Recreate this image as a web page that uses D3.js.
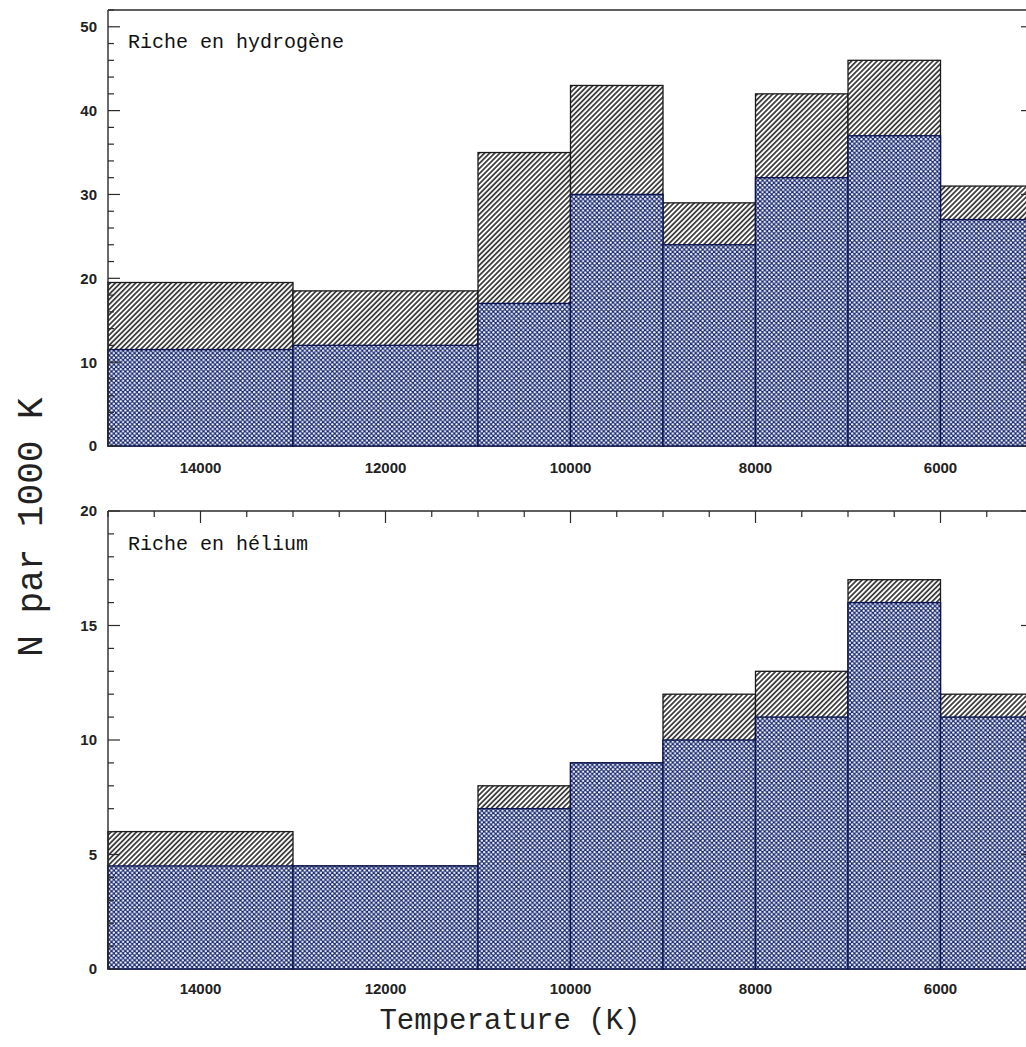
<!DOCTYPE html>
<html>
<head>
<meta charset="utf-8">
<script src="https://cdn.jsdelivr.net/npm/d3@7"></script>
<style>
  html, body { margin: 0; padding: 0; background: #ffffff; }
  svg { display: block; }
</style>
</head>
<body>
<svg id="chart" width="1026" height="1047"></svg>
<script>
// Temperature bin edges (K), hot to cool
const binEdges = [15000, 13000, 11000, 10000, 9000, 8000, 7000, 6000, 5000];

// Hydrogen-rich: total counts and the blue sub-sample (N per 1000 K)
const hydrogenTotal = [19.5, 18.5, 35, 43, 29, 42, 46, 31];
const hydrogenBlue  = [11.5, 12, 17, 30, 24, 32, 37, 27];

// Helium-rich: total counts and the blue sub-sample (N per 1000 K)
const heliumTotal = [6, 4.5, 8, 9, 12, 13, 17, 12];
const heliumBlue  = [4.5, 4.5, 7, 9, 10, 11, 16, 11];

const xTickLabels = [14000, 12000, 10000, 8000, 6000];
const hydrogenYTicks = [0, 10, 20, 30, 40, 50];
const heliumYTicks = [0, 5, 10, 15, 20];

const svg = d3.select("#chart");
const NAVY = "#1a2a72";
const AXIS = "#2a2a2a";

// Fill patterns: diagonal hatch for the full sample, dotted navy for the sub-sample
const defs = svg.append("defs");
const hatch = defs.append("pattern")
  .attr("id", "hatch").attr("patternUnits", "userSpaceOnUse")
  .attr("width", 3.6).attr("height", 3.6)
  .attr("patternTransform", "rotate(45)");
hatch.append("rect").attr("width", 3.6).attr("height", 3.6).attr("fill", "#ffffff");
hatch.append("line").attr("x1", 0.9).attr("y1", 0).attr("x2", 0.9).attr("y2", 3.6)
  .attr("stroke", "#1a1a1a").attr("stroke-width", 1.5);

const dots = defs.append("pattern")
  .attr("id", "dots").attr("patternUnits", "userSpaceOnUse")
  .attr("width", 4.6).attr("height", 4.6);
dots.append("rect").attr("width", 4.6).attr("height", 4.6).attr("fill", NAVY);
dots.append("circle").attr("cx", 1.15).attr("cy", 1.15).attr("r", 1.15).attr("fill", "#ffffff");
dots.append("circle").attr("cx", 3.45).attr("cy", 3.45).attr("r", 1.15).attr("fill", "#ffffff");

const x = d3.scaleLinear().domain([15000, 5000]).range([108, 1033]);

function panel(opts) {
  const { total, blue, y, yTicks, minorStep, title, titleY, labelY } = opts;
  const g = svg.append("g");
  const [y0, y1] = y.range();
  const bins = total.map((t, i) => ({ x0: binEdges[i], x1: binEdges[i + 1], t, b: blue[i] }));

  // Full-sample bars (hatched)
  g.selectAll("rect.total").data(bins).join("rect")
    .attr("class", "total")
    .attr("x", d => x(d.x0)).attr("width", d => x(d.x1) - x(d.x0))
    .attr("y", d => y(d.t)).attr("height", d => y(0) - y(d.t))
    .attr("fill", "url(#hatch)").attr("stroke", "#1a1a1a").attr("stroke-width", 1.3);

  // Sub-sample bars (navy dotted)
  g.selectAll("rect.blue").data(bins).join("rect")
    .attr("class", "blue")
    .attr("x", d => x(d.x0)).attr("width", d => x(d.x1) - x(d.x0))
    .attr("y", d => y(d.b)).attr("height", d => y(0) - y(d.b))
    .attr("fill", "url(#dots)").attr("stroke", "#0b1450").attr("stroke-width", 1.4);

  // Frame: left and top lines
  g.append("line").attr("x1", x(15000)).attr("x2", x(15000)).attr("y1", y1).attr("y2", y0)
    .attr("stroke", AXIS).attr("stroke-width", 1.4);
  g.append("line").attr("x1", x(15000)).attr("x2", x(5000)).attr("y1", y1).attr("y2", y1)
    .attr("stroke", AXIS).attr("stroke-width", 1.4);

  // Y ticks, inward on the left and right sides
  const top = y.domain()[1];
  const minor = d3.range(0, top + 0.001, minorStep);
  [x(15000), x(5000)].forEach((ax, side) => {
    const dir = side === 0 ? 1 : -1;
    g.selectAll(null).data(minor).join("line")
      .attr("x1", ax).attr("x2", d => ax + dir * (yTicks.includes(d) ? 12 : 6))
      .attr("y1", d => y(d)).attr("y2", d => y(d))
      .attr("stroke", AXIS).attr("stroke-width", 1.2);
  });

  // Y tick labels
  g.selectAll("text.ylab").data(yTicks).join("text")
    .attr("class", "ylab")
    .attr("x", 97).attr("y", d => y(d)).attr("dy", "0.36em")
    .attr("text-anchor", "end")
    .attr("font-family", "'Liberation Sans', Arial, sans-serif")
    .attr("font-size", 15).attr("font-weight", "bold").attr("fill", "#222")
    .text(d => d);

  // X tick labels
  g.selectAll("text.xlab").data(xTickLabels).join("text")
    .attr("class", "xlab")
    .attr("x", d => x(d)).attr("y", labelY)
    .attr("text-anchor", "middle")
    .attr("font-family", "'Liberation Sans', Arial, sans-serif")
    .attr("font-size", 15).attr("font-weight", "bold").attr("fill", "#222")
    .text(d => d);

  // Panel title
  g.append("text").attr("x", 128).attr("y", titleY)
    .attr("font-family", "'Liberation Mono', 'Courier New', monospace")
    .attr("font-size", 20).attr("fill", "#111")
    .text(title);
  return g;
}

const yH = d3.scaleLinear().domain([0, 52]).range([446, 10]);
const yHe = d3.scaleLinear().domain([0, 20]).range([969, 511]);

panel({ total: hydrogenTotal, blue: hydrogenBlue, y: yH, yTicks: hydrogenYTicks,
        minorStep: 2, title: "Riche en hydrogène", titleY: 48, labelY: 473 });
const gHe = panel({ total: heliumTotal, blue: heliumBlue, y: yHe, yTicks: heliumYTicks,
        minorStep: 1, title: "Riche en hélium", titleY: 550, labelY: 994 });

// Temperature ticks along the top edge of the helium panel
const tempTicks = d3.range(15000, 4999, -500);
gHe.selectAll("line.xt").data(tempTicks).join("line")
  .attr("class", "xt")
  .attr("x1", d => x(d)).attr("x2", d => x(d))
  .attr("y1", yHe(20)).attr("y2", d => yHe(20) + (xTickLabels.includes(d) ? 12 : 6))
  .attr("stroke", AXIS).attr("stroke-width", 1.2);

// Axis titles
svg.append("text")
  .attr("transform", "translate(42,527) rotate(-90)")
  .attr("text-anchor", "middle")
  .attr("font-family", "'Liberation Mono', 'Courier New', monospace")
  .attr("font-size", 36).attr("fill", "#222")
  .text("N par 1000 K");

svg.append("text")
  .attr("x", 510).attr("y", 1029)
  .attr("text-anchor", "middle")
  .attr("font-family", "'Liberation Mono', 'Courier New', monospace")
  .attr("font-size", 29).attr("fill", "#222")
  .text("Temperature (K)");
</script>
</body>
</html>
